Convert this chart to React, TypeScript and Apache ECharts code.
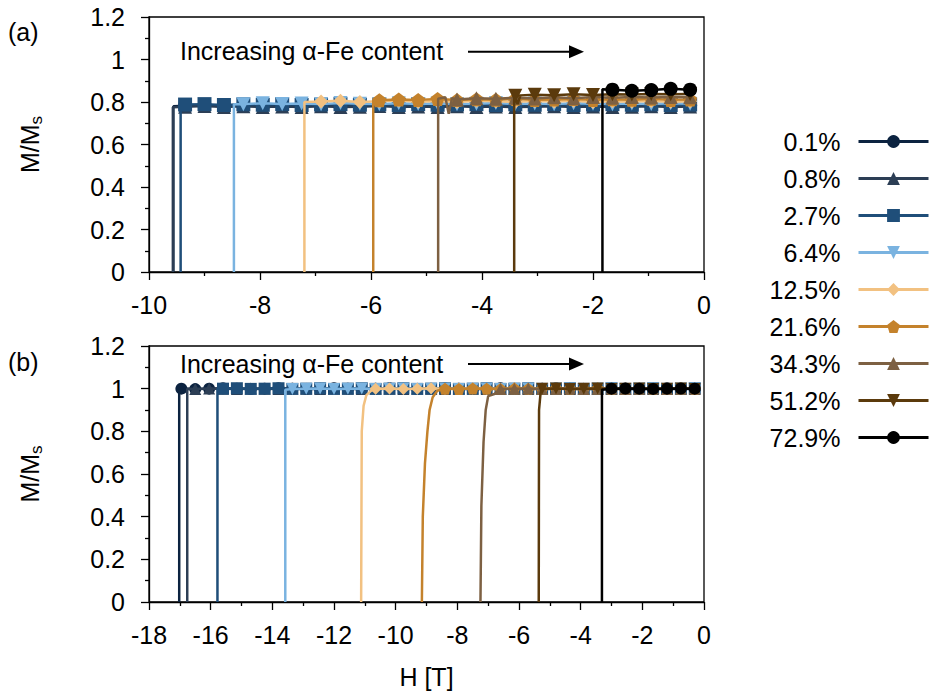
import React, { useEffect, useRef } from 'react';
import * as echarts from 'echarts';

const FONT = "'Liberation Sans', Arial, Helvetica, sans-serif";
const FS = 25;

const seriesNames = ['0.1%', '0.8%', '2.7%', '6.4%', '12.5%', '21.6%', '34.3%', '51.2%', '72.9%'];
const seriesColors = ['#0c2340', '#2c3e55', '#1f4e79', '#7ab3e0', '#f2c181', '#c4822c', '#7d6042', '#5b3a0c', '#000000'];
const seriesSymbols = [
  'circle',
  'triangle',
  'rect',
  'path://M0,0 L10,0 L5,9 Z',
  'diamond',
  'path://M5,0 L10,3.8 L8.1,10 L1.9,10 L0,3.8 Z',
  'triangle',
  'path://M0,0 L10,0 L5,9 Z',
  'circle',
];

// ---- panel (a) ----
const topXTicks = { min: -10, max: 0, step: 2 };
const topGrid = [-9.35, -9.0, -8.65, -8.3, -7.95, -7.6, -7.25, -6.9, -6.55, -6.2, -5.85, -5.5, -5.15, -4.8,
  -4.45, -4.1, -3.75, -3.4, -3.05, -2.7, -2.35, -2.0, -1.65, -1.3, -0.95, -0.6, -0.25];

const topLead = [
  [[-9.56, 0], [-9.56, 0.78]],
  [[-9.57, 0], [-9.57, 0.775]],
  [[-9.43, 0], [-9.43, 0.785]],
  [[-8.47, 0], [-8.47, 0.79]],
  [[-7.2, 0], [-7.2, 0.8]],
  [[-5.96, 0], [-5.96, 0.81], [-5.91, 0.785], [-5.88, 0.81]],
  [[-4.79, 0], [-4.79, 0.815], [-4.66, 0.822], [-4.6, 0.745], [-4.54, 0.818]],
  [[-3.42, 0], [-3.42, 0.835], [-3.36, 0.79], [-3.31, 0.83]],
  [[-1.83, 0], [-1.83, 0.86]],
];

const topValues = [
  [0.782, 0.785, 0.781, 0.784, 0.78, 0.783, 0.781, 0.784, 0.78, 0.782, 0.785, 0.781, 0.783, 0.78, 0.784, 0.781, 0.783, 0.78, 0.782, 0.784, 0.781, 0.783, 0.78, 0.782, 0.784, 0.781, 0.783],
  [0.778, 0.781, 0.777, 0.78, 0.776, 0.779, 0.777, 0.78, 0.776, 0.778, 0.781, 0.777, 0.779, 0.776, 0.78, 0.777, 0.779, 0.776, 0.778, 0.78, 0.777, 0.779, 0.776, 0.778, 0.78, 0.777, 0.779],
  [0.788, 0.79, 0.786, 0.789, 0.787, 0.79, 0.786, 0.788, 0.79, 0.787, 0.789, 0.786, 0.79, 0.787, 0.788, 0.79, 0.786, 0.789, 0.787, 0.79, 0.786, 0.788, 0.79, 0.787, 0.789, 0.786, 0.788],
  [0.79, 0.794, 0.791, 0.793, 0.79, 0.795, 0.792, 0.79, 0.794, 0.791, 0.793, 0.79, 0.792, 0.795, 0.791, 0.793, 0.79, 0.794, 0.792, 0.79, 0.793, 0.791, 0.794, 0.792],
  [0.802, 0.806, 0.8, 0.804, 0.807, 0.801, 0.805, 0.8, 0.806, 0.803, 0.801, 0.805, 0.802, 0.806, 0.8, 0.804, 0.802, 0.805, 0.801, 0.804],
  [0.808, 0.812, 0.81, 0.814, 0.809, 0.813, 0.811, 0.815, 0.81, 0.812, 0.814, 0.81, 0.813, 0.811, 0.815, 0.81, 0.812],
  [0.812, 0.818, 0.815, 0.82, 0.817, 0.822, 0.818, 0.823, 0.82, 0.824, 0.821, 0.823, 0.822],
  [0.83, 0.834, 0.832, 0.836, 0.833, 0.837, 0.835, 0.838, 0.836, 0.838],
  [0.858, 0.853, 0.856, 0.862, 0.858],
];

// ---- panel (b) ----
const bottomXTicks = { min: -18, max: 0, step: 2 };
const bottomGrid = [-16.95, -16.5, -16.05, -15.6, -15.15, -14.7, -14.25, -13.8, -13.35, -12.9, -12.45, -12.0,
  -11.55, -11.1, -10.65, -10.2, -9.75, -9.3, -8.85, -8.4, -7.95, -7.5, -7.05, -6.6, -6.15, -5.7, -5.25, -4.8,
  -4.35, -3.9, -3.45, -3.0, -2.55, -2.1, -1.65, -1.2, -0.75, -0.3];

const bottomLead = [
  [[-17.02, 0], [-17.02, 1.0]],
  [[-16.76, 0], [-16.76, 1.0]],
  [[-15.78, 0], [-15.78, 1.0]],
  [[-13.58, 0], [-13.58, 0.995]],
  [[-11.12, 0], [-11.1, 0.8], [-11.04, 0.92], [-10.95, 0.97], [-10.8, 0.99]],
  [[-9.15, 0], [-9.12, 0.4], [-9.05, 0.65], [-8.97, 0.8], [-8.9, 0.9], [-8.8, 0.96], [-8.65, 0.99]],
  [[-7.25, 0], [-7.22, 0.45], [-7.15, 0.75], [-7.08, 0.9], [-7.0, 0.965], [-6.8, 0.975]],
  [[-5.36, 0], [-5.35, 0.9], [-5.3, 0.98]],
  [[-3.31, 0], [-3.31, 0.995]],
];

const bottomValues = [
  [1.0, 0.998, 1.0, 1.002, 1.0, 0.998, 1.0, 1.002, 1.0, 0.998, 1.0, 1.002, 1.0, 0.998, 1.0, 1.002, 1.0, 0.998, 1.0, 1.002,
    1.0, 0.998, 1.0, 1.002, 1.0, 0.998, 1.0, 1.002, 1.0, 0.998, 1.0, 1.002, 1.0, 0.998, 1.0, 1.002, 1.0, 0.998],
  [0.999, 1.001, 1.0, 0.999, 1.001, 1.0, 0.999, 1.001, 1.0, 0.999, 1.001, 1.0, 0.999, 1.001, 1.0, 0.999, 1.001, 1.0, 0.999, 1.001,
    1.0, 0.999, 1.001, 1.0, 0.999, 1.001, 1.0, 0.999, 1.001, 1.0, 0.999, 1.001, 1.0, 0.999, 1.001, 1.0, 0.999],
  [1.0, 1.002, 0.999, 1.0, 1.002, 0.999, 1.0, 1.002, 0.999, 1.0, 1.002, 0.999, 1.0, 1.002, 0.999, 1.0, 1.002, 0.999, 1.0, 1.002,
    0.999, 1.0, 1.002, 0.999, 1.0, 1.002, 0.999, 1.0, 1.002, 0.999, 1.0, 1.002, 0.999, 1.0, 1.002],
  [0.998, 1.0, 1.001, 0.998, 1.0, 1.001, 0.998, 1.0, 1.001, 0.998, 1.0, 1.001, 0.998, 1.0, 1.001, 0.998, 1.0, 1.001, 0.998, 1.0,
    1.001, 0.998, 1.0, 1.001, 0.998, 1.0, 1.001, 0.998, 1.0, 1.001],
  [1.0, 1.001, 0.999, 1.0, 1.002, 0.999, 1.0, 1.001, 0.999, 1.0, 1.002, 0.999, 1.0, 1.001, 0.999, 1.0, 1.002, 0.999, 1.0, 1.001,
    0.999, 1.0, 1.002, 0.999],
  [1.0, 0.999, 1.001, 1.0, 0.999, 1.001, 1.0, 0.999, 1.001, 1.0, 0.999, 1.001, 1.0, 0.999, 1.001, 1.0, 0.999, 1.001, 1.0],
  [0.998, 1.0, 1.001, 0.999, 1.0, 1.001, 0.999, 1.0, 1.001, 0.999, 1.0, 1.001, 0.999, 1.0, 1.001],
  [1.0, 1.001, 0.999, 1.0, 1.001, 0.999, 1.0, 1.001, 0.999, 1.0, 1.001, 0.999],
  [1.0, 1.001, 1.0, 0.999, 1.0, 1.001, 1.0],
];

const yTicks = { min: 0, max: 1.2, step: 0.2 };

function buildData(lead: number[][], grid: number[], values: number[]) {
  const pts: any[] = lead.map((p) => ({ value: p, symbol: 'none' }));
  const offset = grid.length - values.length;
  values.forEach((v, i) => pts.push({ value: [grid[offset + i], v] }));
  return pts;
}

const axisCommon = {
  type: 'value',
  axisLine: { show: true, onZero: false, lineStyle: { color: '#000', width: 1.3 } },
  axisTick: { show: true, inside: false, length: 8, lineStyle: { color: '#000', width: 1.3 } },
  minorTick: { show: true, splitNumber: 2, length: 4, lineStyle: { color: '#000', width: 1.3 } },
  splitLine: { show: false },
  minorSplitLine: { show: false },
};

export default function App() {
  const ref = useRef<HTMLDivElement>(null);
  useEffect(() => {
    document.body.style.margin = '0';
    if (!ref.current) return;
    const chart = echarts.init(ref.current, undefined, { renderer: 'svg' });

    const series: any[] = [];
    seriesNames.forEach((name, i) => {
      series.push({
        type: 'line',
        name,
        xAxisIndex: 0,
        yAxisIndex: 0,
        data: buildData(topLead[i], topGrid, topValues[i]),
        symbol: seriesSymbols[i],
        symbolSize: 14,
        showAllSymbol: true,
        lineStyle: { color: seriesColors[i], width: 2.5 },
        itemStyle: { color: seriesColors[i] },
        z: 2 + i,
      });
    });
    seriesNames.forEach((name, i) => {
      series.push({
        type: 'line',
        name,
        xAxisIndex: 1,
        yAxisIndex: 1,
        data: buildData(bottomLead[i], bottomGrid, bottomValues[i]),
        symbol: seriesSymbols[i],
        symbolSize: 12,
        showAllSymbol: true,
        lineStyle: { color: seriesColors[i], width: 2.5 },
        itemStyle: { color: seriesColors[i] },
        z: 2 + i,
      });
    });

    const yName = {
      name: 'M/M{s|s}',
      nameLocation: 'middle',
      nameGap: 104,
      nameRotate: 90,
      nameTextStyle: {
        fontSize: FS,
        color: '#000',
        fontFamily: FONT,
        lineHeight: 30,
        rich: { s: { fontSize: 17, lineHeight: 16, verticalAlign: 'bottom', fontFamily: FONT, color: '#000' } },
      },
    };

    const label = { fontSize: FS, color: '#000', fontFamily: FONT };

    const arrow = (y: number) => [
      { type: 'line', shape: { x1: 468, y1: y, x2: 572, y2: y }, style: { stroke: '#000', lineWidth: 2 } },
      { type: 'polygon', shape: { points: [[569, y - 6.5], [584, y], [569, y + 6.5]] }, style: { fill: '#000' } },
    ];
    const txt = (s: string, x: number, y: number) => ({
      type: 'text',
      style: { text: s, x, y, fontSize: FS, fontFamily: FONT, fill: '#000', verticalAlign: 'middle', textVerticalAlign: 'middle', align: 'left', textAlign: 'left' },
    });

    chart.setOption({
      animation: false,
      backgroundColor: '#fff',
      grid: [
        { left: 149, top: 17, width: 555, height: 255, show: true, borderColor: '#000', borderWidth: 1.3, backgroundColor: 'transparent' },
        { left: 149, top: 346, width: 555, height: 256, show: true, borderColor: '#000', borderWidth: 1.3, backgroundColor: 'transparent' },
      ],
      xAxis: [
        { ...axisCommon, gridIndex: 0, min: topXTicks.min, max: topXTicks.max, interval: topXTicks.step, axisLabel: { ...label, margin: 20 } },
        {
          ...axisCommon, gridIndex: 1, min: bottomXTicks.min, max: bottomXTicks.max, interval: bottomXTicks.step,
          axisLabel: { ...label, margin: 20 },
          name: 'H [T]', nameLocation: 'middle', nameGap: 62, nameTextStyle: { fontSize: FS, color: '#000', fontFamily: FONT },
        },
      ],
      yAxis: [
        { ...axisCommon, gridIndex: 0, min: yTicks.min, max: yTicks.max, interval: yTicks.step, axisLabel: { ...label, margin: 24 }, ...yName },
        { ...axisCommon, gridIndex: 1, min: yTicks.min, max: yTicks.max, interval: yTicks.step, axisLabel: { ...label, margin: 24 }, ...yName },
      ],
      legend: {
        data: seriesNames,
        orient: 'vertical',
        right: 6,
        top: 129,
        padding: 0,
        itemWidth: 70,
        itemHeight: 16,
        itemGap: 12,
        align: 'right',
        selectedMode: false,
        itemStyle: { borderWidth: 0 },
        lineStyle: { width: 3 },
        textStyle: { fontSize: FS, color: '#000', fontFamily: FONT, lineHeight: 16, padding: [0, 13, 0, 0] },
      },
      graphic: [
        txt('(a)', 8, 32),
        txt('(b)', 8, 362),
        txt('Increasing α-Fe content', 180, 51),
        txt('Increasing α-Fe content', 180, 364),
        ...arrow(51.7),
        ...arrow(364),
      ],
      series,
    });
    return () => chart.dispose();
  }, []);
  return <div ref={ref} style={{ width: 936, height: 700 }} />;
}
